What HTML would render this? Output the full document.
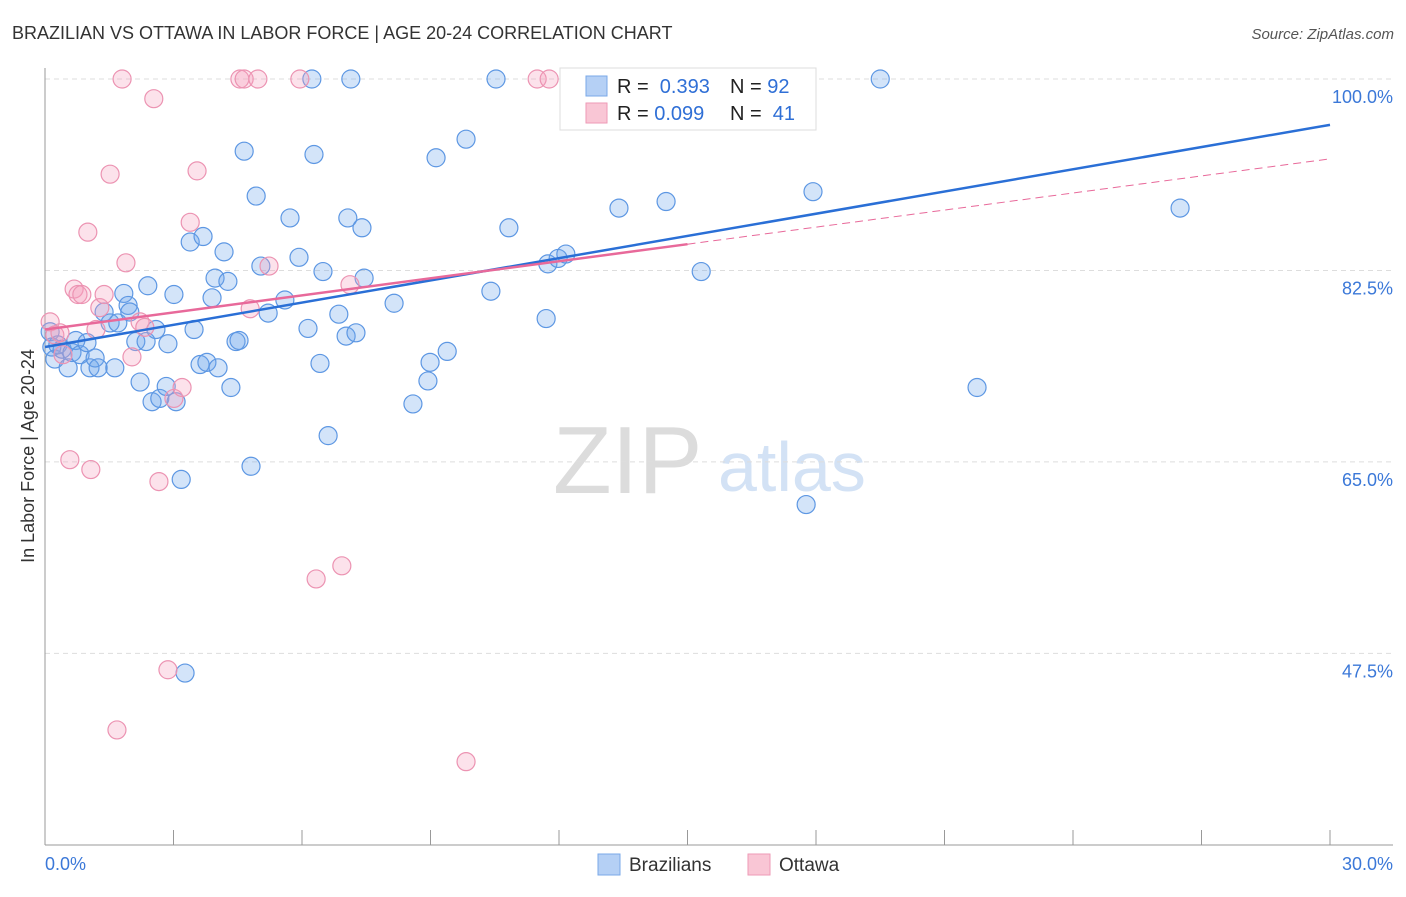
<!DOCTYPE html>
<html><head><meta charset="utf-8"><style>
body{margin:0;background:#fff;font-family:"Liberation Sans",sans-serif}
svg text{font-family:"Liberation Sans",sans-serif}
</style></head><body>
<svg id="chart" width="1406" height="892">
<text x="12" y="39" font-size="18" fill="#333">BRAZILIAN VS OTTAWA IN LABOR FORCE | AGE 20-24 CORRELATION CHART</text>
<text x="1394" y="39" font-size="15" fill="#555" text-anchor="end" font-style="italic">Source: ZipAtlas.com</text>
<g>
<text x="553" y="493" font-size="96" fill="#dcdcdc" font-family="Liberation Serif,serif">ZIP</text>
<text x="718" y="491" font-size="70" fill="#d3e2f5">atlas</text>
</g>
<g id="grid"></g>
<g id="axes"></g>
<g id="marks"></g>
<g id="lines"></g>
<text transform="translate(34,456) rotate(-90)" font-size="18" fill="#333" text-anchor="middle">In Labor Force | Age 20-24</text>
<g>
<rect x="560" y="68" width="256" height="62" fill="#fff" stroke="#ddd"/>
<rect x="586" y="76" width="21" height="20" fill="#b5d0f5" stroke="#7aa8e8"/>
<rect x="586" y="103" width="21" height="20" fill="#f9c6d5" stroke="#ee9ab6"/>
<text x="617" y="93" font-size="20" fill="#222">R = <tspan fill="#2f6fd6">&#160;0.393</tspan></text>
<text x="730" y="93" font-size="20" fill="#222">N = <tspan fill="#2f6fd6">92</tspan></text>
<text x="617" y="120" font-size="20" fill="#222">R = <tspan fill="#2f6fd6">0.099</tspan></text>
<text x="730" y="120" font-size="20" fill="#222">N = <tspan fill="#2f6fd6">&#160;41</tspan></text>
</g>
<g>
<rect x="598" y="854" width="22" height="21" fill="#b5d0f5" stroke="#7aa8e8"/>
<text x="629" y="871" font-size="19" fill="#333">Brazilians</text>
<rect x="748" y="854" width="22" height="21" fill="#f9c6d5" stroke="#ee9ab6"/>
<text x="779" y="871" font-size="19" fill="#333">Ottawa</text>
</g>
</svg>
<script>
const blueX=[0.12,0.16,0.23,0.3,0.4,0.54,0.63,0.72,0.82,0.98,1.05,1.17,1.24,1.38,1.52,1.63,1.7,1.84,1.94,1.98,2.12,2.22,2.36,2.4,2.5,2.59,2.68,2.83,2.87,3.01,3.06,3.18,3.27,3.39,3.48,3.62,3.69,3.78,3.9,3.97,4.04,4.18,4.27,4.34,4.46,4.53,4.65,4.81,4.93,5.04,5.21,5.6,5.72,5.93,6.14,6.23,6.28,6.42,6.49,6.61,6.86,7.03,7.07,7.14,7.26,7.4,7.45,8.15,8.59,8.94,8.99,9.13,9.39,9.83,10.41,10.53,10.83,11.7,11.74,11.98,12.16,13.4,14.5,15.32,15.76,17.77,17.93,19.5,21.76,26.5];
const blueY=[76.9,75.5,74.4,75.7,75.3,73.6,75.0,76.1,74.8,75.9,73.6,74.5,73.6,78.7,77.7,73.6,77.7,80.4,79.3,78.7,76.0,72.3,76.0,81.1,70.5,77.1,70.8,71.9,75.8,80.3,70.5,63.4,45.7,85.1,77.1,73.9,85.6,74.1,80.0,81.8,73.6,84.2,81.5,71.8,76.0,76.1,93.4,64.6,89.3,82.9,78.6,79.8,87.3,83.7,77.2,100,93.1,74.0,82.4,67.4,78.5,76.5,87.3,100,76.8,86.4,81.8,79.5,70.3,72.4,74.1,92.8,75.1,94.5,80.6,100,86.4,78.1,83.1,83.6,84.0,88.2,88.8,82.4,100,61.1,89.7,100,71.8,88.2];
const pinkX=[0.12,0.23,0.35,0.42,0.58,0.68,0.77,0.86,1.0,1.07,1.19,1.28,1.38,1.52,1.68,1.8,1.89,2.03,2.22,2.33,2.54,2.66,2.87,3.01,3.2,3.39,3.55,4.55,4.65,4.79,4.97,5.23,5.95,6.33,6.93,7.12,9.83,11.49,11.77];
const pinkY=[77.8,76.6,76.8,74.8,65.2,80.8,80.3,80.3,86.0,64.3,77.1,79.1,80.3,91.3,40.5,100,83.2,74.6,77.8,77.3,98.2,63.2,46.0,70.8,71.8,86.9,91.6,100,100,79.0,100,82.9,100,54.3,55.5,81.2,37.6,100,100];
const yTicks=[100,82.5,65,47.5];
const yTickLabels=["100.0%","82.5%","65.0%","47.5%"];
const xTicks=[0,3,6,9,12,15,18,21,24,27,30];
const xEndLabels=["0.0%","30.0%"];
const blueTrend=[75.5,0.677];
const pinkTrend=[77.1,0.52];
const pinkSolidEnd=15;

const NS="http://www.w3.org/2000/svg";
const X0=45,X1=1330,Ytop=79,PPY=10.94;
const sx=v=>X0+(v/30)*(X1-X0);
const sy=v=>Ytop+(100-v)*PPY;
function mk(tag,attrs,parent){const e=document.createElementNS(NS,tag);for(const k in attrs)e.setAttribute(k,attrs[k]);parent.appendChild(e);return e;}
const grid=document.getElementById('grid'),axes=document.getElementById('axes'),marks=document.getElementById('marks'),lines=document.getElementById('lines');
yTicks.forEach((t,i)=>{
  const l=mk('line',{x1:X0,x2:1393,y1:sy(t),y2:sy(t),stroke:'#ddd','stroke-dasharray':'5,4'},grid);
  
  
  const tx=mk('text',{x:1393,y:sy(t)+24,'font-size':18,fill:'#3b78d8','text-anchor':'end'},grid);
  tx.textContent=yTickLabels[i];
  
  
});
let a=mk('line',{x1:X0,x2:X0,y1:68,y2:845,stroke:'#999'},axes);


a=mk('line',{x1:X0,x2:1393,y1:845,y2:845,stroke:'#999'},axes);


xTicks.forEach(t=>{
  const l=mk('line',{x1:sx(t),x2:sx(t),y1:830,y2:845,stroke:'#999'},axes);
  
  
});
let t0=mk('text',{x:45,y:870,'font-size':18,fill:'#3b78d8'},axes);t0.textContent=xEndLabels[0];


let t1=mk('text',{x:1393,y:870,'font-size':18,fill:'#3b78d8','text-anchor':'end'},axes);t1.textContent=xEndLabels[1];


blueX.forEach((v,i)=>{
  const c=mk('circle',{cx:sx(v),cy:sy(blueY[i]),r:9,fill:'rgba(110,165,235,0.3)',stroke:'#5d97e3','stroke-width':1.2},marks);
  
  
});
pinkX.forEach((v,i)=>{
  const c=mk('circle',{cx:sx(v),cy:sy(pinkY[i]),r:9,fill:'rgba(245,160,190,0.3)',stroke:'#ec93b2','stroke-width':1.2},marks);
  
  
});
let bl=mk('line',{x1:sx(0),y1:sy(blueTrend[0]),x2:sx(30),y2:sy(blueTrend[0]+blueTrend[1]*30),stroke:'#2a6fd6','stroke-width':2.5},lines);


let pl=mk('line',{x1:sx(0),y1:sy(pinkTrend[0]),x2:sx(pinkSolidEnd),y2:sy(pinkTrend[0]+pinkTrend[1]*pinkSolidEnd),stroke:'#e8699a','stroke-width':2.5},lines);


let pd=mk('line',{x1:sx(pinkSolidEnd),y1:sy(pinkTrend[0]+pinkTrend[1]*pinkSolidEnd),x2:sx(30),y2:sy(pinkTrend[0]+pinkTrend[1]*30),stroke:'#e8699a','stroke-width':1,'stroke-dasharray':'8,5'},lines);


</script>
</body></html>
